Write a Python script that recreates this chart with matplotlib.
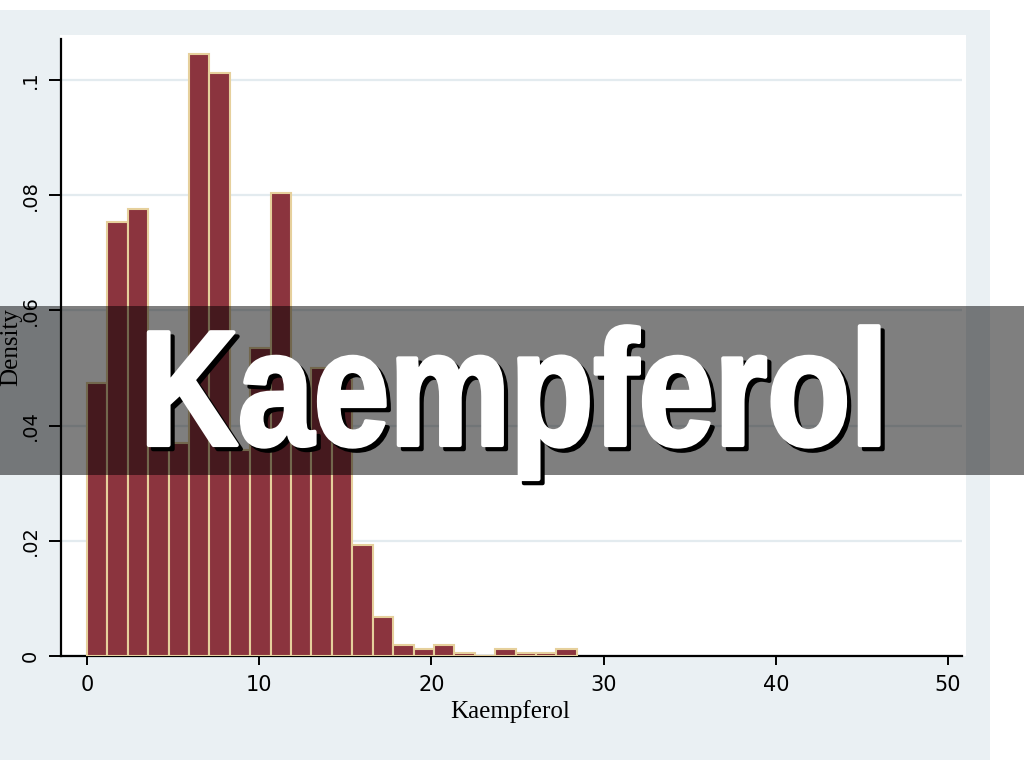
import matplotlib
matplotlib.use("Agg")
import numpy as np
import matplotlib.pyplot as plt
import matplotlib.patheffects as pe
from matplotlib.patches import Rectangle
from matplotlib.transforms import Affine2D
from matplotlib.colors import to_rgba

# Histogram of Kaempferol (density), 24 bins
bin_start = 0.0
bin_width = 1.185
density = [0.0474, 0.0754, 0.0776, 0.0520, 0.0370, 0.1045, 0.1012, 0.0358,
           0.0534, 0.0804, 0.0441, 0.0500, 0.0480, 0.0193, 0.0068, 0.0019,
           0.0013, 0.0019, 0.0005, 0.0, 0.0012, 0.0005, 0.0005, 0.0012]

x_ticks = [0, 10, 20, 30, 40, 50]
y_ticks = [0, 0.02, 0.04, 0.06, 0.08, 0.1]
y_ticklabels = ["0", ".02", ".04", ".06", ".08", ".1"]

title = "Kaempferol"
x_label = "Kaempferol"
y_label = "Density"

W, H = 1024, 768


class Condensed(pe.AbstractPathEffect):
    # squeeze the glyph paths horizontally round cx (pixels), optional colour / stroke
    def __init__(self, sx, cx, offset=(0, 0), color=None, lw=0.0):
        super().__init__(offset)
        self.sx, self.cx, self.color, self.lw = sx, cx, color, lw

    def draw_path(self, renderer, gc, tpath, affine, rgbFace=None):
        gc0 = renderer.new_gc()
        gc0.copy_properties(gc)
        face = rgbFace if self.color is None else to_rgba(self.color)
        gc0.set_foreground(face)
        gc0.set_linewidth(self.lw)
        gc0.set_joinstyle("round")
        tr = (affine + Affine2D().translate(-self.cx, 0).scale(self.sx, 1).translate(self.cx, 0)
              + self._offset_transform(renderer))
        renderer.draw_path(gc0, tpath, tr, face)
        gc0.restore()


fig = plt.figure(figsize=(W / 100, H / 100), dpi=100)
fig.patch.set_facecolor("white")

# outer graph region
fig.patches.append(Rectangle((0, 8 / H), 990 / W, 750 / H, transform=fig.transFigure,
                             facecolor="#EAF0F3", edgecolor="none", zorder=-10))
# white plot region
fig.patches.append(Rectangle((60 / W, (H - 656) / H), 906 / W, 621 / H, transform=fig.transFigure,
                             facecolor="white", edgecolor="none", zorder=-9))

ax = fig.add_axes([61 / W, (H - 656) / H, 901 / W, 617 / H])
ax.set_facecolor("none")

edges = bin_start + bin_width * np.arange(len(density))
ax.bar(edges, density, width=bin_width, align="edge", color="#8B343E",
       edgecolor="#E6D09C", linewidth=1.5, zorder=3)

ax.set_xlim(-1.51, 50.81)
ax.set_ylim(0, 0.1071)

ax.set_yticks(y_ticks)
ax.set_yticklabels(y_ticklabels)
ax.set_xticks(x_ticks)
ax.grid(axis="y", color="#E3EBEF", linewidth=1.6, zorder=0)

for s in ["top", "right"]:
    ax.spines[s].set_visible(False)
for s in ["left", "bottom"]:
    ax.spines[s].set_linewidth(1.6)
    ax.spines[s].set_color("black")

ax.tick_params(axis="y", direction="out", length=8.5, width=1.4, pad=7, labelsize=14)
ax.tick_params(axis="x", direction="out", length=6.5, width=1.4, pad=7, labelsize=15)
plt.setp(ax.get_yticklabels(), rotation=90, va="center")

ax.set_xlabel(x_label, family="Liberation Serif", fontsize=18)
ax.xaxis.set_label_coords(0.498, -0.072)
ax.set_ylabel(y_label, family="Liberation Serif", fontsize=18)
ax.yaxis.set_label_coords(-0.0435, 0.5)

# dark banner with big title
fig.patches.append(Rectangle((0, (H - 475) / H), 1, 169 / H, transform=fig.transFigure,
                             facecolor="black", alpha=0.5, edgecolor="none", zorder=10))
cx = 514
fig.text(cx / W, (H - 445) / H, title, ha="center", va="baseline",
         fontsize=118, fontweight="bold", color="white",
         family=["Liberation Sans", "DejaVu Sans"], zorder=11,
         path_effects=[Condensed(0.83, cx, offset=(3, -3), color="black", lw=3.0),
                       Condensed(0.83, cx, color="white", lw=3.0)])

fig.savefig("out.png", dpi=100)
